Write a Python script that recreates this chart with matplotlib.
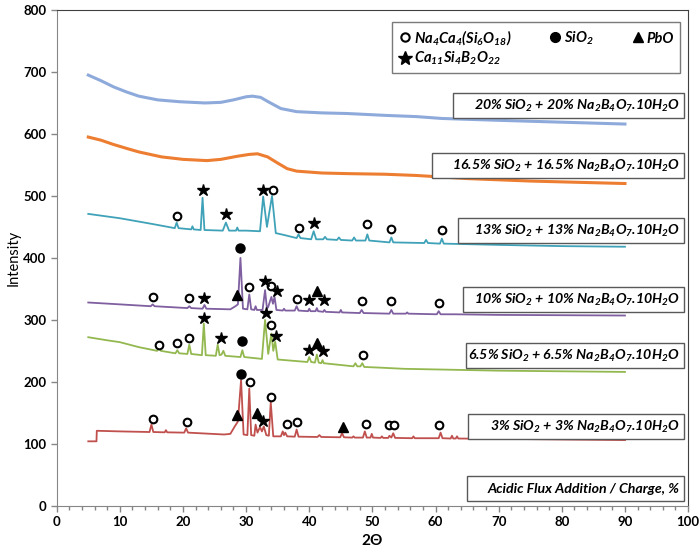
import numpy as np
import matplotlib.pyplot as plt
from matplotlib.lines import Line2D
from matplotlib.patches import Rectangle

plt.rcParams['font.family'] = ['Lato', 'DejaVu Sans']
plt.rcParams['mathtext.default'] = 'regular'

# %%
# XRD patterns (2-theta, intensity), one per flux addition
blue_x = [5, 7, 9, 11, 13, 16, 19.5, 23.5, 26, 28, 30, 31, 32.3, 33.5, 35.5, 38, 42, 46, 52, 57, 61, 70, 80, 90]
blue_y = [695, 686, 676, 668, 661, 655, 652, 650, 651, 655, 660, 661, 659, 652, 641, 636, 634, 633, 630, 628, 625, 622, 619, 616]

orange_x = [5, 7, 9, 11.3, 13, 16.6, 20, 23.8, 26, 28.6, 30.5, 31.8, 33.4, 35, 36.5, 38, 42, 46, 52, 57, 65, 75, 90]
orange_y = [595, 590, 583, 576, 571, 563, 559, 557, 559, 564, 567, 568, 563, 553, 544, 540, 537, 536, 535, 533, 528, 524, 520]

teal_x = [5, 10, 15, 18.7, 19.0, 19.3, 21.3, 21.5, 21.7, 22.8, 23.1, 23.4, 26.3, 26.8, 27.3, 28.4, 28.6, 28.8,
          30, 32.2, 32.7, 33.3, 34.1, 34.7, 36, 38.0, 38.3, 38.6, 40.3, 40.7, 41.1, 42.2, 42.5, 42.8,
          44.4, 44.7, 45.0, 46.8, 47.1, 47.4, 48.9, 49.2, 49.5, 52.7, 53.0, 53.3, 58.2, 58.5, 58.8,
          60.7, 61.0, 61.3, 70, 80, 90]
teal_y = [471, 464, 455, 448, 457, 448, 446, 451, 446, 445, 497, 445, 444, 457, 444, 444, 449, 444,
          444, 443, 499, 450, 500, 440, 437, 432, 438, 432, 430, 443, 430, 430, 434, 430,
          429, 433, 429, 428, 433, 428, 428, 438, 428, 425, 433, 425, 424, 429, 424,
          423, 431, 423, 421, 419, 418]

purple_x = [5, 10, 14.9, 15.2, 15.5, 20.7, 21.0, 21.3, 23.1, 23.4, 23.7, 27.5, 28.3, 28.7, 29.1, 29.5,
            30.2, 30.5, 30.8, 31.3, 31.5, 31.7, 32.6, 33.0, 33.3, 33.5, 34.0, 34.25, 34.5, 34.8,
            35.8, 36.0, 36.2, 37.7, 38.0, 38.3, 39.8, 40.0, 40.2, 41.0, 41.2, 41.4, 42.2, 42.4, 42.6,
            44.8, 45.0, 45.2, 48.0, 48.3, 48.6, 52.7, 53.0, 53.3, 55.3, 55.5, 55.7, 60.2, 60.5, 60.8,
            63, 70, 90]
purple_y = [328, 325, 322, 325, 322, 319, 322, 319, 318, 324, 318, 317, 322, 325, 400, 318,
            317, 341, 317, 316, 322, 316, 316, 348, 318, 321, 337, 326, 337, 316,
            315, 318, 315, 315, 322, 315, 314, 318, 314, 314, 319, 314, 313, 316, 313,
            312, 316, 312, 311, 316, 311, 310, 316, 310, 310, 312, 310, 309, 314, 309,
            309, 308, 307]

green_x = [5, 8, 10, 13, 15.9, 16.2, 16.5, 18.8, 19.1, 19.4, 20.7, 21.0, 21.3, 23.0, 23.3, 23.6,
           25.2, 25.5, 25.8, 26.1, 26.4, 26.7, 29.1, 29.4, 29.7, 32.5, 33.0, 33.5, 34.0, 34.3, 34.6, 35.0,
           39.7, 40.0, 40.3, 40.9, 41.2, 41.5, 41.9, 42.1, 42.3, 47.0, 47.3, 47.6, 48.1, 48.4, 48.7,
           51, 55, 60, 70, 90]
green_y = [272, 267, 264, 256, 250, 254, 250, 246, 251, 246, 245, 260, 245, 243, 294, 243,
           242, 260, 243, 244, 250, 242, 240, 251, 240, 237, 300, 245, 278, 250, 265, 236,
           232, 240, 232, 231, 244, 231, 230, 235, 230, 225, 230, 225, 225, 230, 224,
           223, 221, 220, 218, 216]

red_x = [5, 6.3, 6.35, 10, 14.7, 15.0, 15.3, 17.1, 17.3, 17.5, 20.2, 20.5, 20.8, 26.5, 27.5, 28.2, 28.7,
         29.2, 29.6, 30.2, 30.5, 30.8, 31.3, 31.5, 31.8, 32.2, 32.5, 32.8, 33.2, 33.6, 33.9, 34.3,
         35.5, 35.8, 36.0, 36.2, 36.5, 37.7, 38.0, 38.3, 41.3, 41.6, 41.9, 44.9, 45.2, 45.5,
         46.8, 47.0, 47.2, 48.5, 48.8, 49.1, 49.7, 49.9, 50.1, 51.3, 51.5, 51.7,
         52.5, 52.7, 53.0, 53.3, 53.6, 56.3, 56.5, 56.7, 60.5, 60.8, 61.1, 62.4, 62.6, 62.8,
         63.2, 63.4, 63.6, 70, 80, 90]
red_y = [104, 104, 121, 120, 119, 131, 119, 118.5, 122, 118.5, 118, 125, 118, 115, 116, 128, 136,
         203, 115, 114, 189, 114, 113, 131, 118, 127, 120, 128, 114, 113, 167, 112,
         112, 120, 114, 118, 112, 111.5, 123, 111.5, 111, 114, 111, 110.5, 117, 110.5,
         110, 112, 110, 110, 120, 110, 110, 116, 110, 109.5, 112, 109.5,
         109.5, 113, 110, 117, 109.5, 109, 112, 109, 109, 118, 109, 108.5, 113, 108.5,
         108.5, 112, 108.5, 108, 107, 106]

# %%
# Phase markers (13%, 10%, 6.5%, 3% rows in that order)
circ_x = [19.0, 34.2, 38.3, 49.2, 53.0, 61.0,
          15.2, 21.0, 30.5, 34.0, 38.0, 48.3, 53.0, 60.5,
          16.2, 19.1, 21.0, 34.0, 48.5,
          15.2, 20.6, 30.6, 34.0, 36.4, 38.1, 49.0, 52.7, 53.5, 60.6]
circ_y = [467, 510, 449, 454, 447, 445,
          337, 335, 353, 355, 334, 330, 331, 328,
          259, 262, 271, 291, 243,
          140, 135, 199, 176, 132, 135, 132, 130, 131, 130]

star_x = [23.1, 26.8, 32.6, 40.7,
          23.4, 33.0, 34.9, 40.0, 42.4,
          23.3, 26.1, 33.2, 34.8, 40.0, 42.2,
          32.7]
star_y = [510, 471, 510, 456,
          335, 362, 347, 332, 332,
          303, 271, 311, 274, 252, 250,
          137]

dot_x = [29.1, 29.4, 29.2]
dot_y = [416, 266, 213]

tri_x = [28.6, 41.2, 41.3, 28.6, 31.7, 45.3]
tri_y = [340, 346, 263, 147, 149, 127]

# labels next to each pattern
box_text = ['20% SiO$_2$ + 20% Na$_2$B$_4$O$_7$.10H$_2$O',
            '16.5% SiO$_2$ + 16.5% Na$_2$B$_4$O$_7$.10H$_2$O',
            '13% SiO$_2$ + 13% Na$_2$B$_4$O$_7$.10H$_2$O',
            '10% SiO$_2$ + 10% Na$_2$B$_4$O$_7$.10H$_2$O',
            '6.5% SiO$_2$ + 6.5% Na$_2$B$_4$O$_7$.10H$_2$O',
            '3% SiO$_2$ + 3% Na$_2$B$_4$O$_7$.10H$_2$O',
            'Acidic Flux Addition / Charge, %']
box_bottom = [626, 529, 424, 313, 223, 108, 8]
box_left = [62.8, 59.4, 63.6, 64.4, 64.8, 65.2, 65.0]

# %%
fig = plt.figure(figsize=(7, 5.57), dpi=100)
ax = fig.add_axes([0.081, 0.092, 0.902, 0.89])

# the two amorphous patterns are noisy, drawn a bit heavier
ax.plot(blue_x, blue_y, color='#8eaadb', lw=2.2)
ax.plot(orange_x, orange_y, color='#ed7d31', lw=2.2)
ax.plot(teal_x, teal_y, color='#3fa2b8', lw=1.3)
ax.plot(purple_x, purple_y, color='#7f5fa0', lw=1.3)
ax.plot(green_x, green_y, color='#93b84f', lw=1.3)
ax.plot(red_x, red_y, color='#c0504d', lw=1.3)

ax.plot(circ_x, circ_y, 'o', ls='none', ms=5.5, mfc='white', mec='black', mew=1.5, zorder=5)
ax.plot(star_x, star_y, '*', ls='none', ms=9, color='black', zorder=5)
ax.plot(dot_x, dot_y, 'o', ls='none', ms=6.5, color='black', zorder=5)
ax.plot(tri_x, tri_y, '^', ls='none', ms=6.5, color='black', zorder=5)

for yb, xl, txt in zip(box_bottom, box_left, box_text):
    ax.add_patch(Rectangle((xl, yb), 99.4 - xl, 40, fc='white', ec='#595959', lw=1, zorder=3))
    ax.text(98.7, yb + 19, txt, ha='right', va='center', fontsize=10.2,
            fontweight='bold', fontstyle='italic', zorder=4)

# legend of phases
handles = [Line2D([], [], marker='o', ls='none', ms=6, mfc='white', mec='black', mew=1.5),
           Line2D([], [], marker='*', ls='none', ms=10, color='black'),
           Line2D([], [], marker='o', ls='none', ms=7, color='black'),
           Line2D([], [], marker='^', ls='none', ms=7, color='black')]
names = ['Na$_4$Ca$_4$(Si$_6$O$_{18}$)', 'Ca$_{11}$Si$_4$B$_2$O$_{22}$', 'SiO$_2$', 'PbO']
leg = ax.legend(handles, names, ncol=3, loc='upper right', bbox_to_anchor=(0.998, 0.99),
                frameon=True, fancybox=False, edgecolor='#595959', handletextpad=0.1,
                columnspacing=2.5, handlelength=1.0, labelspacing=0.2, borderpad=0.4,
                prop={'weight': 'bold', 'style': 'italic', 'size': 10.5})
leg.get_frame().set_linewidth(1)

ax.set_xlim(0, 100)
ax.set_ylim(0, 800)
ax.set_xticks(np.arange(0, 101, 10))
ax.set_xticks(np.arange(0, 101, 2), minor=True)
ax.set_yticks(np.arange(0, 801, 100))
ax.tick_params(direction='out', length=4, width=1, color='#868686', labelsize=9.5)
ax.tick_params(which='minor', direction='out', length=3, width=1, color='#868686')
for lab in ax.get_xticklabels() + ax.get_yticklabels():
    lab.set_fontweight('bold')

ax.spines['left'].set_color('#868686')
ax.spines['bottom'].set_color('#868686')
ax.spines['top'].set_color('#404040')
ax.spines['right'].set_color('#404040')

ax.set_xlabel('2Θ', fontsize=11, fontweight='bold', labelpad=4)
ax.set_ylabel('Intensity', fontsize=10.5, labelpad=2)

plt.savefig('out.png', dpi=100)
